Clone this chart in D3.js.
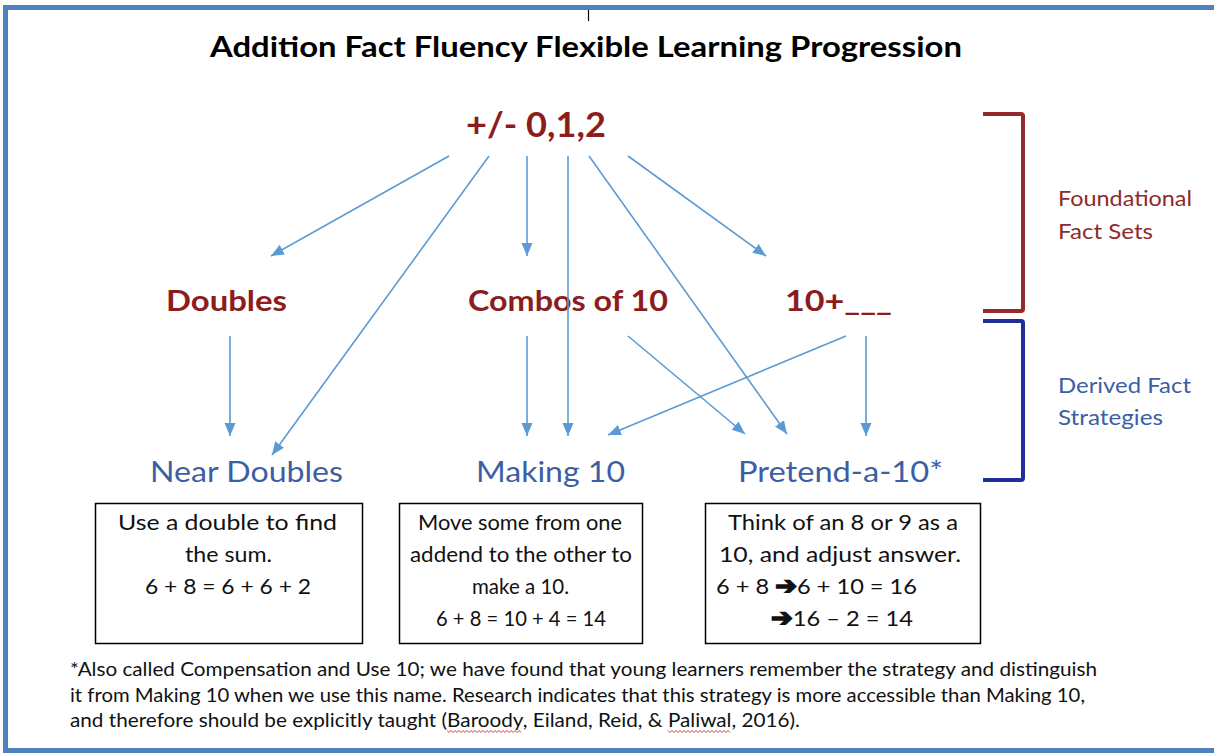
<!DOCTYPE html>
<html><head><meta charset="utf-8">
<script src="https://cdn.jsdelivr.net/npm/d3@7"></script>
<style>html,body{margin:0;padding:0;background:#fff;}svg{display:block;}</style>
</head><body>
<script>
// ---------- content ----------
const title = "Addition Fact Fluency Flexible Learning Progression";
const foundationalNodes = ["+/- 0,1,2", "Doubles", "Combos of 10", "10+___"];
const derivedNodes = ["Near Doubles", "Making 10", "Pretend-a-10*"];
const groupLabels = [["Foundational", "Fact Sets"], ["Derived Fact", "Strategies"]];
const boxLines = [
  ["Use a double to find", "the sum.", "6 + 8 = 6 + 6 + 2"],
  ["Move some from one", "addend to the other to", "make a 10.", "6 + 8 = 10 + 4 = 14"],
  ["Think of an 8 or 9 as a", "10, and adjust answer.", "6 + 8 \u27946 + 10 = 16", "\u279416 \u2013 2 = 14"]
];
const footnote = [
  "*Also called Compensation and Use 10; we have found that young learners remember the strategy and distinguish",
  "it from Making 10 when we use this name. Research indicates that this strategy is more accessible than Making 10,",
  "and therefore should be explicitly taught (Baroody, Eiland, Reid, & Paliwal, 2016)."
];
const flaggedWords = ["Baroody", "Paliwal"];
// edges: [from, to]
const edges = [
  ["+/- 0,1,2", "Doubles"], ["+/- 0,1,2", "Near Doubles"], ["+/- 0,1,2", "Combos of 10"],
  ["+/- 0,1,2", "Making 10"], ["+/- 0,1,2", "Pretend-a-10*"], ["+/- 0,1,2", "10+___"],
  ["Doubles", "Near Doubles"], ["Combos of 10", "Making 10"], ["Combos of 10", "Pretend-a-10*"],
  ["10+___", "Making 10"], ["10+___", "Pretend-a-10*"]
];

// ---------- layout ----------
const W = 1214, H = 755;
const RED = "#8c1d1d", BLUE_T = "#3c5ea3", ARROW = "#5b9bd5";
const svg = d3.select("body").append("svg").attr("width", W).attr("height", H)
  .style("font-family", "Lato, 'Open Sans', sans-serif");

// frame
svg.append("rect").attr("x", 5.5).attr("y", 7.5).attr("width", W).attr("height", 743)
  .attr("fill", "none").attr("stroke", "#4f81bd").attr("stroke-width", 5);
svg.append("line").attr("x1", 588.5).attr("x2", 588.5).attr("y1", 10).attr("y2", 21)
  .attr("stroke", "#000").attr("stroke-width", 1.2);

function fitText(g, txt, x, y, w, size, opts = {}) {
  const t = g.append("text").attr("x", x).attr("y", y)
    .attr("font-size", size).attr("fill", opts.fill || "#000")
    .attr("font-weight", opts.weight || "normal")
    .attr("text-anchor", opts.anchor || "start");
  const parts = txt.split(/(\u2794)/).filter(p => p.length);
  parts.forEach(p => {
    const ts = t.append("tspan").text(p);
    if (p === "\u2794") ts.style("font-family", "'DejaVu Sans', sans-serif").attr("font-weight", "bold")
      .attr("font-size", size * 1.1).attr("stroke", "#111").attr("stroke-width", 1.6)
      .attr("stroke-linejoin", "miter");
  });
  if (w) t.attr("textLength", w).attr("lengthAdjust", "spacingAndGlyphs");
  if (opts.family) t.style("font-family", opts.family);
  return t;
}

// title
fitText(svg, title, 210, 57, 752, 28, {weight: "bold"});

// node layout: x extent and baseline
const nodeLayout = {
  "+/- 0,1,2": {x0: 466, x1: 606, y: 137, size: 35},
  "Doubles": {x0: 166, x1: 287, y: 311, size: 28},
  "Combos of 10": {x0: 468, x1: 668, y: 311, size: 28},
  "10+___": {x0: 785, x1: 892, y: 311, size: 28},
  "Near Doubles": {x0: 150, x1: 343, y: 482, size: 28},
  "Making 10": {x0: 476, x1: 625, y: 482, size: 28},
  "Pretend-a-10*": {x0: 738, x1: 943, y: 482, size: 28}
};
foundationalNodes.forEach(n => {
  const L = nodeLayout[n];
  fitText(svg, n, L.x0, L.y, L.x1 - L.x0, L.size, {weight: "bold", fill: RED});
});
derivedNodes.forEach(n => {
  const L = nodeLayout[n];
  fitText(svg, n, L.x0, L.y, L.x1 - L.x0, L.size, {fill: BLUE_T});
});

// arrows
const anchors = {
  "+/- 0,1,2>Doubles": [[449, 156], [271, 256]],
  "+/- 0,1,2>Near Doubles": [[489, 156], [272, 455]],
  "+/- 0,1,2>Combos of 10": [[527, 156], [527, 256]],
  "+/- 0,1,2>Making 10": [[568, 156], [568, 436]],
  "+/- 0,1,2>Pretend-a-10*": [[589, 156], [787, 434]],
  "+/- 0,1,2>10+___": [[628, 156], [766, 256]],
  "Doubles>Near Doubles": [[230, 336], [230, 436]],
  "Combos of 10>Making 10": [[527, 336], [527, 436]],
  "Combos of 10>Pretend-a-10*": [[628, 336], [745, 434]],
  "10+___>Making 10": [[846, 336], [608, 435]],
  "10+___>Pretend-a-10*": [[866, 336], [866, 436]]
};
const defs = svg.append("defs");
defs.append("marker").attr("id", "ah").attr("markerUnits", "userSpaceOnUse")
  .attr("markerWidth", 14).attr("markerHeight", 12).attr("refX", 13).attr("refY", 6)
  .attr("orient", "auto").attr("viewBox", "0 0 14 12")
  .append("path").attr("d", "M0,0.5 L13,6 L0,11.5 Z").attr("fill", ARROW);
const line = d3.line();
svg.append("g").selectAll("path").data(edges).join("path")
  .attr("d", d => line(anchors[d[0] + ">" + d[1]]))
  .attr("fill", "none").attr("stroke", ARROW).attr("stroke-width", 1.6)
  .attr("marker-end", "url(#ah)");

// brackets
const bracket = (y0, y1, col) => svg.append("path")
  .attr("d", `M983,${y0} L1021,${y0} Q1023,${y0} 1023,${y0 + 2} L1023,${y1 - 2} Q1023,${y1} 1021,${y1} L983,${y1}`)
  .attr("fill", "none").attr("stroke", col).attr("stroke-width", 4);
bracket(114, 311, "#962a2a");
bracket(321, 480, "#1f2f9a");

const gl = [
  {lines: groupLabels[0], ys: [206, 239], ws: [134, 95], fill: "#8e2a2a"},
  {lines: groupLabels[1], ys: [393, 425], ws: [133, 105], fill: BLUE_T}
];
gl.forEach(g => g.lines.forEach((t, i) =>
  fitText(svg, t, 1058, g.ys[i], g.ws[i], 22, {fill: g.fill})));

// boxes
const boxes = [{x0: 95, x1: 362}, {x0: 399, x1: 642}, {x0: 705, x1: 980}];
boxes.forEach(b => svg.append("rect").attr("x", b.x0 + 0.5).attr("y", 503.5)
  .attr("width", b.x1 - b.x0).attr("height", 140).attr("fill", "none")
  .attr("stroke", "#000").attr("stroke-width", 1.5));
const lineYs = [530, 562, 594, 626];
const boxTextW = [
  [[118, 219], [185, 87], [145, 166]],
  [[418, 204], [410, 222], [472, 97], [436, 170]],
  [[728, 230], [719, 242], [716, 201], [771, 142]]
];
boxLines.forEach((lines, bi) => lines.forEach((t, li) => {
  const [x, w] = boxTextW[bi][li];
  fitText(svg, t, x, lineYs[li], w, 22, {fill: "#111"});
}));

// footnote
const fnY = [676, 702, 727];
const fnW = [1027, 1015, 730];
footnote.forEach((t, i) => {
  const el = fitText(svg, t, 70, fnY[i], fnW[i], 19, {fill: "#111"});
  flaggedWords.forEach(wd => {
    const k = t.indexOf(wd);
    if (k < 0) return;
    const node = el.node();
    const xa = node.getStartPositionOfChar(k).x;
    const xb = node.getEndPositionOfChar(k + wd.length - 1).x;
    const pts = [];
    for (let x = xa, j = 0; x <= xb; x += 2, j++) pts.push([x, fnY[i] + 4 + (j % 2 ? 1.5 : -0.5)]);
    svg.append("path").attr("d", d3.line()(pts)).attr("fill", "none")
      .attr("stroke", "#e02020").attr("stroke-width", 0.9);
  });
});
</script>
</body></html>
